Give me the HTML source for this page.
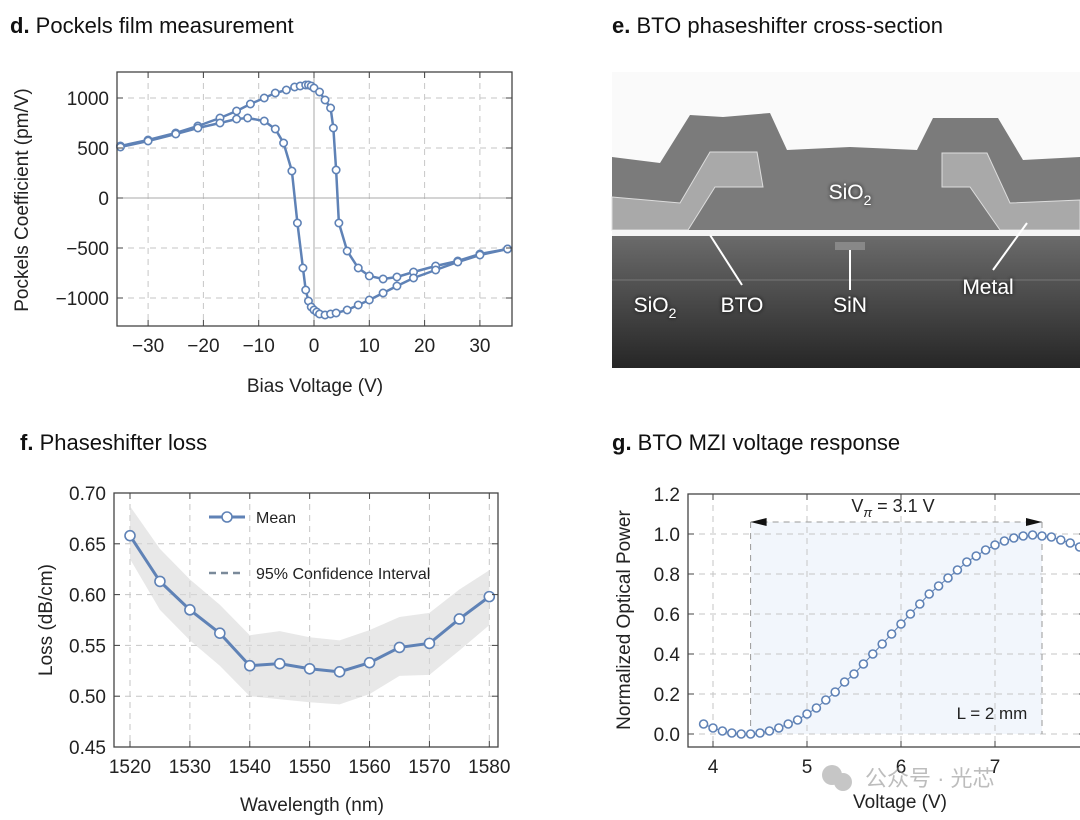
<!DOCTYPE html>
<html><head><meta charset="utf-8"><style>
body{margin:0;background:#fff;width:1080px;height:820px;overflow:hidden}
svg{display:block;font-family:"Liberation Sans","Noto Sans CJK SC",sans-serif}
</style></head><body>
<svg id="s" width="1080" height="820">
<text x="10" y="33" font-size="22" fill="#111"><tspan font-weight="bold">d.</tspan> Pockels film measurement</text>
<text x="612" y="33" font-size="22" fill="#111"><tspan font-weight="bold">e.</tspan> BTO phaseshifter cross-section</text>
<text x="20" y="450" font-size="22" fill="#111"><tspan font-weight="bold">f.</tspan> Phaseshifter loss</text>
<text x="612" y="450" font-size="22" fill="#111"><tspan font-weight="bold">g.</tspan> BTO MZI voltage response</text>
<defs>
<linearGradient id="sub" x1="0" y1="0" x2="0" y2="1"><stop offset="0" stop-color="#6e6e6e"/><stop offset="1" stop-color="#262626"/></linearGradient>
<filter id="glow"><feDropShadow dx="0" dy="0" stdDeviation="2" flood-color="#000" flood-opacity="0.9"/></filter>
</defs>
<g transform="translate(612,72)">
<rect width="468" height="296" fill="#fafafa"/>
<rect y="158" width="468" height="138" fill="url(#sub)"/>
<polygon points="0,85 48,91 78,43 111,45 158,41 175,78 238,75 305,78 321,46 386,46 411,88 468,85 468,158 0,158" fill="#7b7b7b"/>
<polygon points="0,125 68,131 98,80 145,80 151,115 103,115 76,158 0,158" fill="#a9a9a9" stroke="#ddd" stroke-width="1"/>
<polygon points="330,81 375,81 398,131 468,128 468,158 388,158 358,115 330,115" fill="#a9a9a9" stroke="#ddd" stroke-width="1"/>
<rect y="158" width="468" height="6" fill="#f4f4f4"/>
<line x1="0" y1="208" x2="468" y2="208" stroke="#777" stroke-width="1"/>
<rect x="223" y="170" width="30" height="8" fill="#888"/>
<g stroke="#fff" stroke-width="2"><line x1="98" y1="163" x2="130" y2="213"/><line x1="238" y1="178" x2="238" y2="218"/><line x1="415" y1="151" x2="381" y2="198"/></g>
<g fill="#fff" font-size="21" text-anchor="middle" filter="url(#glow)">
<text x="238" y="127">SiO<tspan font-size="14" dy="6">2</tspan></text>
<text x="43" y="240">SiO<tspan font-size="14" dy="6">2</tspan></text>
<text x="130" y="240">BTO</text><text x="238" y="240">SiN</text><text x="376" y="222">Metal</text>
</g>
</g>
</svg>
<script>
// Panel d data
const dUpX=[-35,-30,-25,-21,-17,-14,-11.5,-9,-7,-5,-3.5,-2.5,-1.5,-1,-0.5,0,1,2,3,3.5,4,4.5,6,8,10,12.5,15,18,22,26,30,35];
const dUpY=[520,580,650,720,800,870,940,1000,1050,1080,1110,1120,1130,1130,1120,1100,1060,980,900,700,280,-250,-530,-700,-780,-810,-790,-740,-680,-630,-560,-510];
const dLoX=[-35,-30,-25,-21,-17,-14,-12,-9,-7,-5.5,-4,-3,-2,-1.5,-1,-0.5,0,0.5,1,2,3,4,6,8,10,12.5,15,18,22,26,30,35];
const dLoY=[510,570,640,700,750,790,800,770,690,550,270,-250,-700,-920,-1030,-1090,-1120,-1140,-1160,-1170,-1160,-1150,-1120,-1070,-1020,-950,-880,-800,-720,-640,-570,-510];
const dXTicks=[-30,-20,-10,0,10,20,30];
const dYTicks=[-1000,-500,0,500,1000];
// Panel f data
const fX=[1520,1525,1530,1535,1540,1545,1550,1555,1560,1565,1570,1575,1580];
const fMean=[0.658,0.613,0.585,0.562,0.530,0.532,0.527,0.524,0.533,0.548,0.552,0.576,0.598];
const fUpper=[0.687,0.645,0.615,0.590,0.560,0.564,0.558,0.555,0.565,0.578,0.582,0.605,0.624];
const fLower=[0.635,0.585,0.555,0.530,0.500,0.497,0.494,0.492,0.502,0.520,0.521,0.545,0.570];
const fXTicks=[1520,1530,1540,1550,1560,1570,1580];
const fYTicks=[0.45,0.50,0.55,0.60,0.65,0.70];
const fYLabels=["0.45","0.50","0.55","0.60","0.65","0.70"];
// Panel g data
const gX=[3.9,4.0,4.1,4.2,4.3,4.4,4.5,4.6,4.7,4.8,4.9,5.0,5.1,5.2,5.3,5.4,5.5,5.6,5.7,5.8,5.9,6.0,6.1,6.2,6.3,6.4,6.5,6.6,6.7,6.8,6.9,7.0,7.1,7.2,7.3,7.4,7.5,7.6,7.7,7.8,7.9];
const gY=[0.05,0.03,0.015,0.005,0,0,0.005,0.015,0.03,0.05,0.07,0.10,0.13,0.17,0.21,0.26,0.30,0.35,0.40,0.45,0.50,0.55,0.60,0.65,0.70,0.74,0.78,0.82,0.86,0.89,0.92,0.945,0.965,0.98,0.99,0.995,0.99,0.985,0.97,0.955,0.935];
const gXTicks=[4,5,6,7];
const gYTicks=[0,0.2,0.4,0.6,0.8,1.0,1.2];
const gYLabels=["0.0","0.2","0.4","0.6","0.8","1.0","1.2"];
const gShade=[4.4,7.5,1.06];

const svg=document.getElementById('s');
const NS='http://www.w3.org/2000/svg';
const BLUE='#5f82b6';
function mk(tag,at,parent){const e=document.createElementNS(NS,tag);for(const k in at)e.setAttribute(k,at[k]);(parent||svg).appendChild(e);return e;}
function lin(d0,d1,r0,r1){return v=>r0+(v-d0)*(r1-r0)/(d1-d0);}
function txt(x,y,s,size,anchor,parent){const t=mk('text',{x:x,y:y,'font-size':size,'text-anchor':anchor||'middle',fill:'#222'},parent);t.textContent=s;return t;}
function frame(g,L,T,R,B){
  mk('rect',{x:L,y:T,width:R-L,height:B-T,fill:'none',stroke:'#444','stroke-width':1.3},g);
}
function grid(g,L,T,R,B,xs,ys,xt,yt){
  xt.forEach(v=>{mk('line',{x1:xs(v),x2:xs(v),y1:T,y2:B,stroke:'#c6c6c6','stroke-dasharray':'6,5'},g);});
  yt.forEach(v=>{mk('line',{x1:L,x2:R,y1:ys(v),y2:ys(v),stroke:'#c6c6c6','stroke-dasharray':'6,5'},g);});
}
function ticks(g,L,T,R,B,xs,ys,xt,yt,xlab,ylab,fs){
  xt.forEach((v,i)=>{mk('line',{x1:xs(v),x2:xs(v),y1:B,y2:B-6,stroke:'#444'},g);mk('line',{x1:xs(v),x2:xs(v),y1:T,y2:T+6,stroke:'#444'},g);if(xlab)txt(xs(v),B+26,xlab[i],fs,'middle',g);});
  yt.forEach((v,i)=>{mk('line',{x1:L,x2:L+6,y1:ys(v),y2:ys(v),stroke:'#444'},g);mk('line',{x1:R,x2:R-6,y1:ys(v),y2:ys(v),stroke:'#444'},g);if(ylab)txt(L-8,ys(v)+7,ylab[i],fs,'end',g);});
}
function poly(g,xs,ys,X,Y,w){return mk('polyline',{points:X.map((x,i)=>xs(x)+','+ys(Y[i])).join(' '),fill:'none',stroke:BLUE,'stroke-width':w},g);}
function dots(g,xs,ys,X,Y,r,name){X.forEach((x,i)=>{const c=mk('circle',{cx:xs(x),cy:ys(Y[i]),r:r,fill:'#fff',stroke:BLUE,'stroke-width':1.6},g);

});}

// ---- Panel d
(function(){
const g=mk('g',{});


const L=117,T=72,R=512,B=326;
const xs=lin(0,10,314,369.3),ys=lin(0,1000,198,98);
grid(g,L,T,R,B,xs,ys,dXTicks.filter(v=>v!==0),dYTicks.filter(v=>v!==0));
mk('line',{x1:xs(0),x2:xs(0),y1:T,y2:B,stroke:'#aaa'},g);
mk('line',{x1:L,x2:R,y1:ys(0),y2:ys(0),stroke:'#aaa'},g);
poly(g,xs,ys,dUpX,dUpY,2.5);poly(g,xs,ys,dLoX,dLoY,2.5);
dots(g,xs,ys,dUpX,dUpY,3.7,'pockels-up-point');dots(g,xs,ys,dLoX,dLoY,3.7,'pockels-down-point');
frame(g,L,T,R,B);
ticks(g,L,T,R,B,xs,ys,dXTicks,dYTicks,dXTicks.map(v=>v<0?'\u2212'+(-v):''+v),dYTicks.map(v=>v<0?'\u2212'+(-v):''+v),19);
txt(315,392,'Bias Voltage (V)',19,'middle',g);
const yl=txt(0,0,'Pockels Coefficient (pm/V)',19,'middle',g);yl.setAttribute('transform','translate(28,200) rotate(-90)');
})();

// ---- Panel f
(function(){
const g=mk('g',{});


const L=114,T=493,R=498,B=747;
const xs=lin(1520,1580,130,489.3),ys=lin(0.45,0.70,747,493);
grid(g,L,T,R,B,xs,ys,fXTicks,fYTicks.slice(1,5));
const band=fX.map((x,i)=>xs(x)+','+ys(fUpper[i])).concat(fX.slice().reverse().map((x,j)=>{const i=fX.length-1-j;return xs(x)+','+ys(fLower[i]);})).join(' ');
const b=mk('polygon',{points:band,fill:'#d8d8d8','fill-opacity':0.6},g);


poly(g,xs,ys,fX,fMean,3);dots(g,xs,ys,fX,fMean,5,'mean-point');
frame(g,L,T,R,B);
ticks(g,L,T,R,B,xs,ys,fXTicks,fYTicks,fXTicks.map(String),fYLabels,19);
txt(312,811,'Wavelength (nm)',19,'middle',g);
const yl=txt(0,0,'Loss (dB/cm)',19,'middle',g);yl.setAttribute('transform','translate(52,620) rotate(-90)');
const lg=mk('g',{},g);


mk('line',{x1:209,x2:245,y1:517,y2:517,stroke:BLUE,'stroke-width':3},lg);
mk('circle',{cx:227,cy:517,r:5,fill:'#fff',stroke:BLUE,'stroke-width':1.6},lg);
txt(256,523,'Mean',16,'start',lg);
mk('line',{x1:209,x2:245,y1:573,y2:573,stroke:'#7a8a9a','stroke-width':2.5,'stroke-dasharray':'7,5'},lg);
txt(256,579,'95% Confidence Interval',16,'start',lg);
})();

// ---- Panel g
(function(){
const g=mk('g',{});


const L=688,T=494,R=1085,B=747;
const xs=lin(4,5,713,807),ys=lin(0,1.2,734,494);
const sh=mk('rect',{x:xs(gShade[0]),y:ys(gShade[2]),width:xs(gShade[1])-xs(gShade[0]),height:ys(0)-ys(gShade[2]),fill:'#f2f6fc'},g);


grid(g,L,T,R,B,xs,ys,gXTicks,gYTicks.slice(0,6));
[gShade[0],gShade[1]].forEach(v=>mk('line',{x1:xs(v),x2:xs(v),y1:ys(gShade[2]),y2:ys(0),stroke:'#999','stroke-dasharray':'6,5'},g));
mk('line',{x1:xs(gShade[0]),x2:xs(gShade[1]),y1:ys(gShade[2]),y2:ys(gShade[2]),stroke:'#999','stroke-dasharray':'6,5'},g);
const ay=ys(gShade[2]);
mk('polygon',{points:`${xs(gShade[0])},${ay} ${xs(gShade[0])+16},${ay-4} ${xs(gShade[0])+16},${ay+4}`,fill:'#111'},g);
mk('polygon',{points:`${xs(gShade[1])},${ay} ${xs(gShade[1])-16},${ay-4} ${xs(gShade[1])-16},${ay+4}`,fill:'#111'},g);
poly(g,xs,ys,gX,gY,1);dots(g,xs,ys,gX,gY,4,'power-point');
frame(g,L,T,R,B);
ticks(g,L,T,R,B,xs,ys,gXTicks,gYTicks,gXTicks.map(String),gYLabels,19);
const vt=txt(893,512,'',18,'middle',g);vt.innerHTML='V<tspan font-size="13" dy="5" font-style="italic">π</tspan><tspan dy="-5"> = 3.1 V</tspan>';
txt(992,719,'L = 2 mm',17,'middle',g);
txt(900,808,'Voltage (V)',19,'middle',g);
const yl=txt(0,0,'Normalized Optical Power',19,'middle',g);yl.setAttribute('transform','translate(630,620) rotate(-90)');
const wm=mk('g',{opacity:0.55},g);


mk('circle',{cx:832,cy:775,r:10,fill:'#999'},wm);mk('circle',{cx:843,cy:782,r:9,fill:'#999'},wm);
const wt=txt(865,786,'公众号 · 光芯',22,'start',wm);wt.setAttribute('fill','#888');
})();
</script>
</body></html>
